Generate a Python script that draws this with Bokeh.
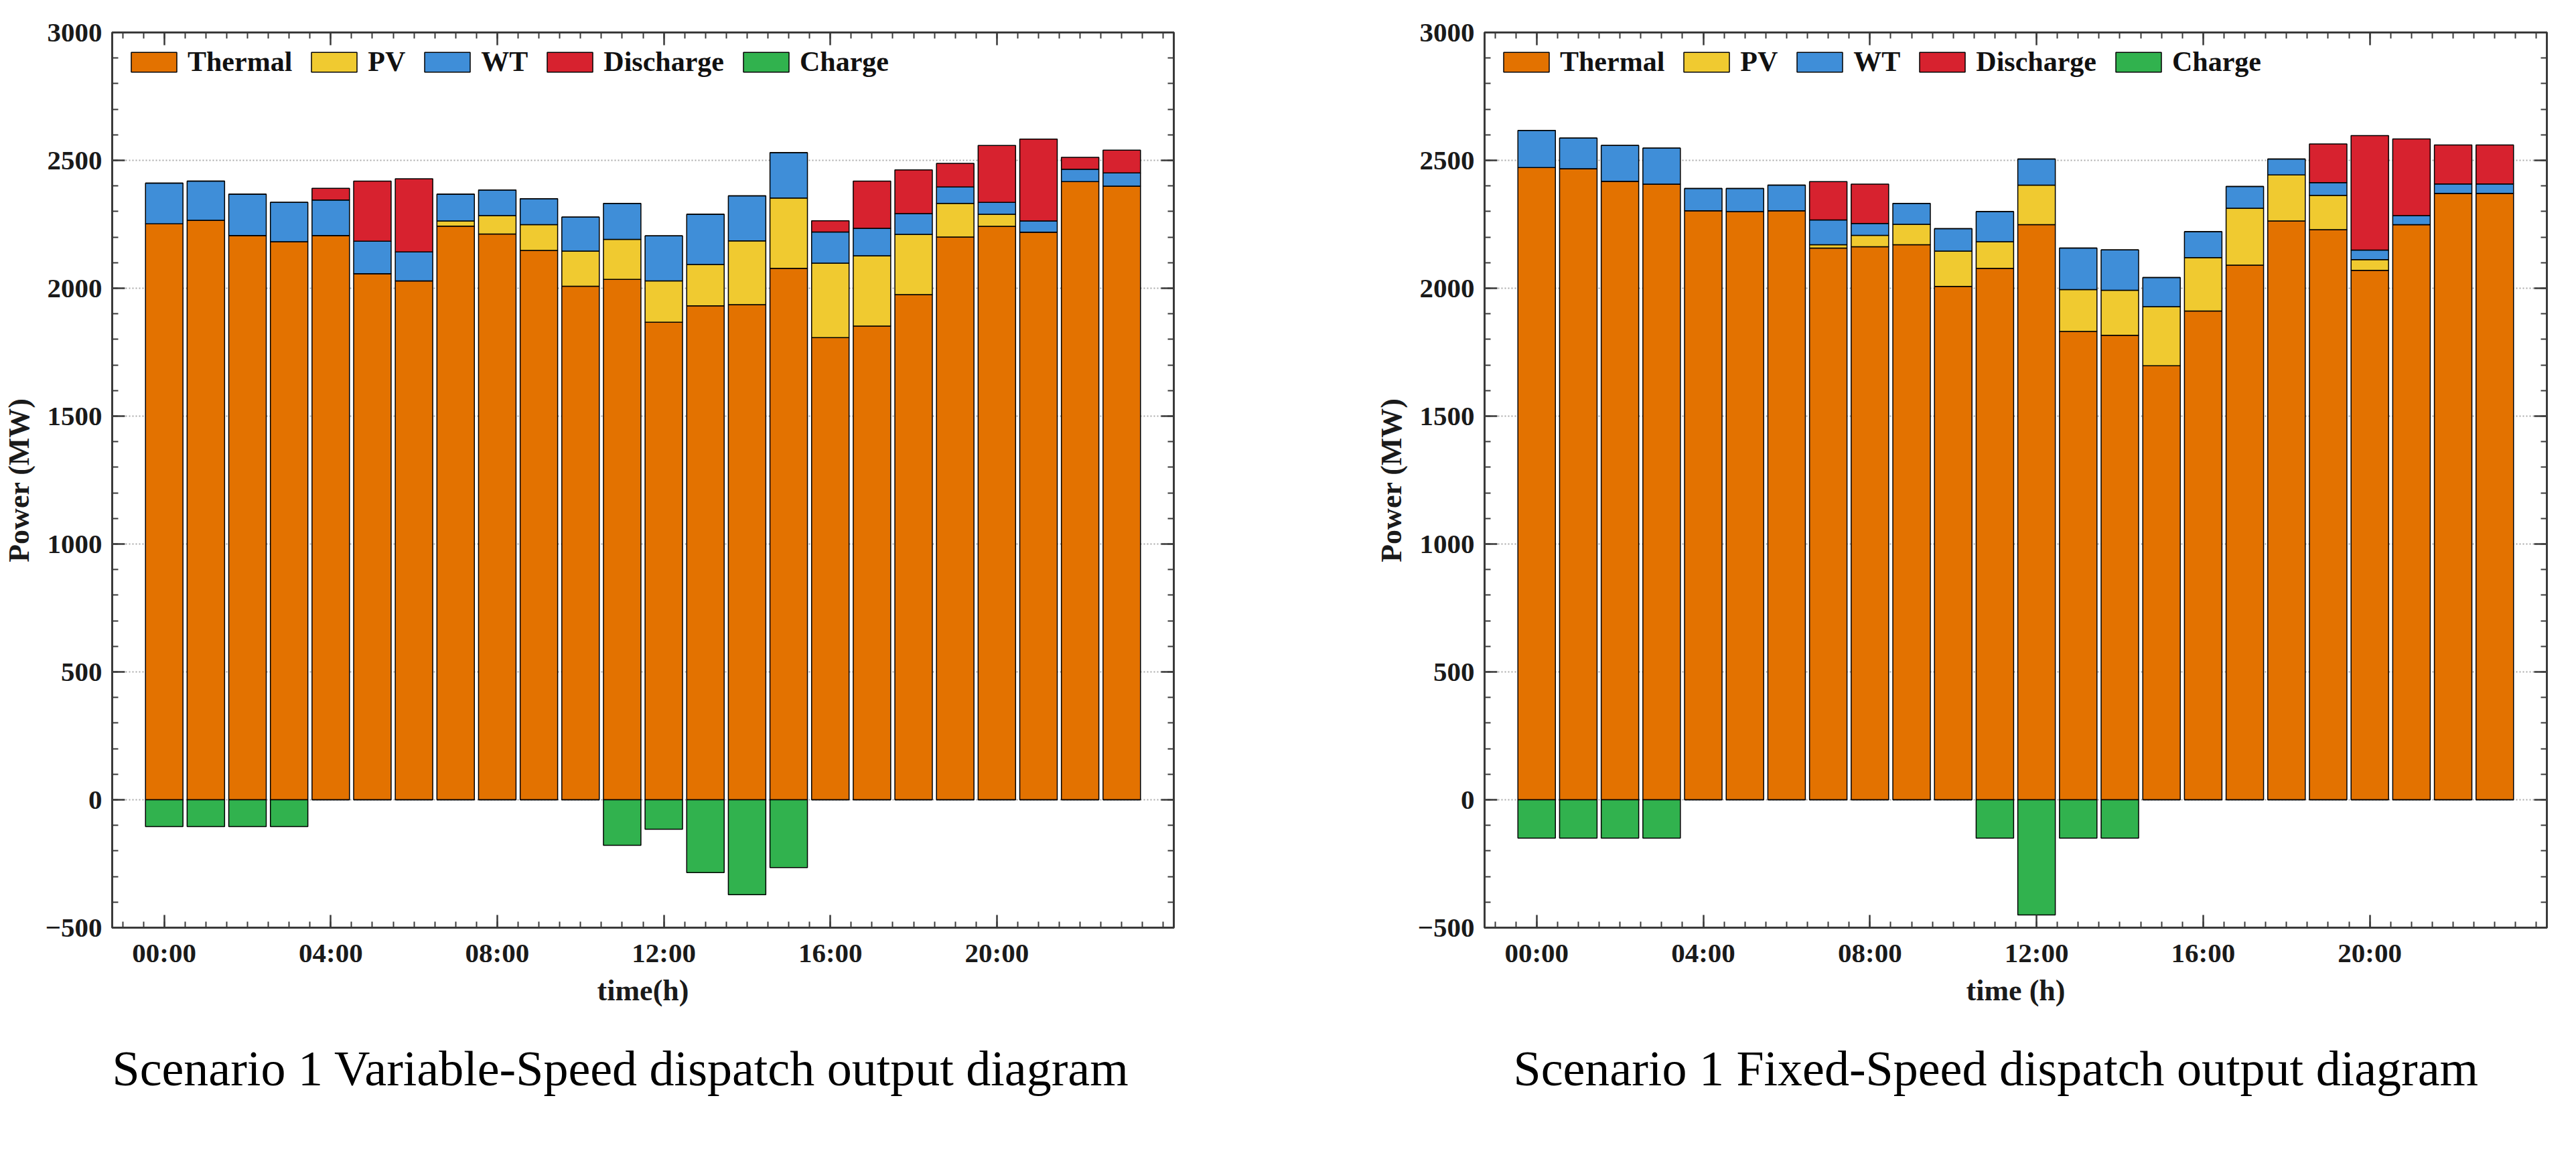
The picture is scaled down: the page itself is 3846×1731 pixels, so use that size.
from bokeh.plotting import figure
from bokeh.models import (Range1d, FixedTicker, SingleIntervalTicker, LinearAxis,
                          Title, ColumnDataSource)
from bokeh.layouts import row
from bokeh.embed import file_html
from bokeh.resources import INLINE

# ---------------- data ----------------
HOURS = list(range(24))
MAJOR_HOURS = [0, 4, 8, 12, 16, 20]
TICK_LABELS = ["00:00", "04:00", "08:00", "12:00", "16:00", "20:00"]
SERIES = ["Thermal", "PV", "WT", "Discharge", "Charge"]
COLORS = ["#E37200", "#F0CA30", "#3F8ED8", "#D7222F", "#31B24E"]

# Scenario 1 Variable-Speed (MW)
VS_THERMAL = [2252, 2266, 2206, 2182, 2206, 2057, 2029, 2243, 2212, 2148, 2008, 2035,
              1867, 1931, 1936, 2078, 1807, 1852, 1975, 2200, 2242, 2219, 2417, 2399]
VS_PV = [0, 0, 0, 0, 0, 0, 0, 20, 72, 101, 137, 156,
         162, 162, 249, 275, 291, 275, 236, 132, 47, 0, 0, 0]
VS_WT = [159, 153, 162, 154, 139, 127, 113, 105, 100, 101, 133, 141,
         176, 196, 176, 177, 122, 107, 81, 64, 47, 44, 48, 52]
VS_DISCHARGE = [0, 0, 0, 0, 46, 235, 286, 0, 0, 0, 0, 0,
                0, 0, 0, 0, 44, 185, 171, 92, 222, 320, 47, 89]
VS_CHARGE = [-105, -105, -105, -105, 0, 0, 0, 0, 0, 0, 0, -178,
             -115, -285, -371, -265, 0, 0, 0, 0, 0, 0, 0, 0]

# Scenario 1 Fixed-Speed (MW)
FS_THERMAL = [2472, 2467, 2418, 2407, 2303, 2300, 2303, 2157, 2162, 2170, 2007, 2078,
              2249, 1831, 1816, 1697, 1911, 2090, 2263, 2229, 2070, 2249, 2371, 2371]
FS_PV = [0, 0, 0, 0, 0, 0, 0, 13, 45, 80, 138, 104,
         154, 164, 176, 231, 209, 223, 180, 134, 42, 0, 0, 0]
FS_WT = [145, 120, 140, 141, 87, 90, 100, 97, 46, 82, 88, 118,
         102, 162, 158, 114, 101, 85, 62, 50, 37, 35, 37, 37]
FS_DISCHARGE = [0, 0, 0, 0, 0, 0, 0, 150, 154, 0, 0, 0,
                0, 0, 0, 0, 0, 0, 0, 151, 448, 300, 152, 152]
FS_CHARGE = [-150, -150, -150, -150, 0, 0, 0, 0, 0, 0, 0, -150,
             -450, -150, -150, 0, 0, 0, 0, 0, 0, 0, 0, 0]

CAPTION_VS = "Scenario 1 Variable-Speed dispatch output diagram"
CAPTION_FS = "Scenario 1 Fixed-Speed dispatch output diagram"

FONT = "Liberation Serif"
AXC = "#3a3a3a"


def style_ticks(ax):
    ax.axis_line_color = None
    ax.major_tick_line_color = AXC
    ax.minor_tick_line_color = AXC
    ax.major_tick_line_width = 2.5
    ax.minor_tick_line_width = 2
    ax.major_tick_in = 19
    ax.major_tick_out = 0
    ax.minor_tick_in = 9
    ax.minor_tick_out = 0


def make_plot(thermal, pv, wt, dis, charge, xlabel, caption, width, height,
              b_left, b_right, b_top, b_bottom, cap_offset):
    src = ColumnDataSource(dict(hour=HOURS, thermal=thermal, pv=pv, wt=wt,
                                dis=dis, charge=charge))
    p = figure(width=width, height=height, title=None,
               x_range=Range1d(-1.25, 24.25), y_range=Range1d(-500, 3000),
               output_backend="svg", toolbar_location=None,
               min_border_left=b_left, min_border_right=b_right,
               min_border_top=b_top, min_border_bottom=b_bottom)
    p.background_fill_color = "white"
    p.border_fill_color = "white"
    p.outline_line_color = AXC
    p.outline_line_width = 3

    p.vbar_stack(["thermal", "pv", "wt", "dis"], x="hour", width=0.9, source=src,
                 color=COLORS[:4], line_color="black", line_width=1.5,
                 legend_label=SERIES[:4])
    p.vbar(x="hour", top="charge", bottom=0, width=0.9, source=src,
           fill_color=COLORS[4], line_color="black", line_width=1.5,
           legend_label=SERIES[4])

    xticker = FixedTicker(ticks=MAJOR_HOURS,
                          minor_ticks=[h / 2 for h in range(-2, 49)])
    yticker = SingleIntervalTicker(interval=500, num_minor_ticks=5)
    overrides = {h: t for h, t in zip(MAJOR_HOURS, TICK_LABELS)}

    bottom = p.below[0]
    left = p.left[0]
    bottom.ticker = xticker
    bottom.major_label_overrides = overrides
    left.ticker = yticker
    bottom.axis_label = xlabel
    left.axis_label = "Power (MW)"

    for ax in (bottom, left):
        style_ticks(ax)
        ax.major_label_text_font = FONT
        ax.major_label_text_font_style = "bold"
        ax.major_label_text_font_size = "41px"
        ax.major_label_text_color = "#1a1a1a"
        ax.axis_label_text_font = FONT
        ax.axis_label_text_font_style = "bold"
        ax.axis_label_text_font_size = "44px"
        ax.axis_label_text_color = "#1a1a1a"
    bottom.major_label_standoff = 14
    bottom.axis_label_standoff = 6
    left.major_label_standoff = 15
    left.axis_label_standoff = 12

    top = LinearAxis(ticker=xticker)
    right = LinearAxis(ticker=yticker)
    for ax in (top, right):
        style_ticks(ax)
        ax.major_label_text_font_size = "10px"
        ax.major_label_text_color = None
        ax.major_label_standoff = 0
    p.add_layout(top, "above")
    p.add_layout(right, "right")

    p.xgrid.visible = False
    p.ygrid.grid_line_color = "#a8a8a8"
    p.ygrid.grid_line_width = 2
    p.ygrid.grid_line_dash = "2 3"

    lg = p.legend[0]
    lg.orientation = "horizontal"
    lg.location = "top_left"
    lg.margin = 20
    lg.padding = 13
    lg.spacing = 20
    lg.glyph_width = 85
    lg.glyph_height = 37
    lg.label_standoff = 8
    lg.label_text_font = FONT
    lg.label_text_font_style = "bold"
    lg.label_text_font_size = "42px"
    lg.label_text_color = "#111111"
    lg.border_line_color = None
    lg.background_fill_alpha = 0

    cap = Title(text=caption, align="left", offset=cap_offset, standoff=92,
                text_font=FONT, text_font_style="normal", text_font_size="74px",
                text_color="black")
    p.add_layout(cap, "below")
    return p


H = 1712
p1 = make_plot(VS_THERMAL, VS_PV, VS_WT, VS_DISCHARGE, VS_CHARGE, "time(h)", CAPTION_VS,
               width=2049, height=H, b_left=167, b_right=297, b_top=42,
               b_bottom=H - 42 - 1347, cap_offset=0)
p2 = make_plot(FS_THERMAL, FS_PV, FS_WT, FS_DISCHARGE, FS_CHARGE, "time (h)", CAPTION_FS,
               width=1781, height=H, b_left=167, b_right=28, b_top=48,
               b_bottom=H - 48 - 1337, cap_offset=43)

layout = row(p1, p2)
open("out.html", "w").write(file_html(layout, INLINE))
